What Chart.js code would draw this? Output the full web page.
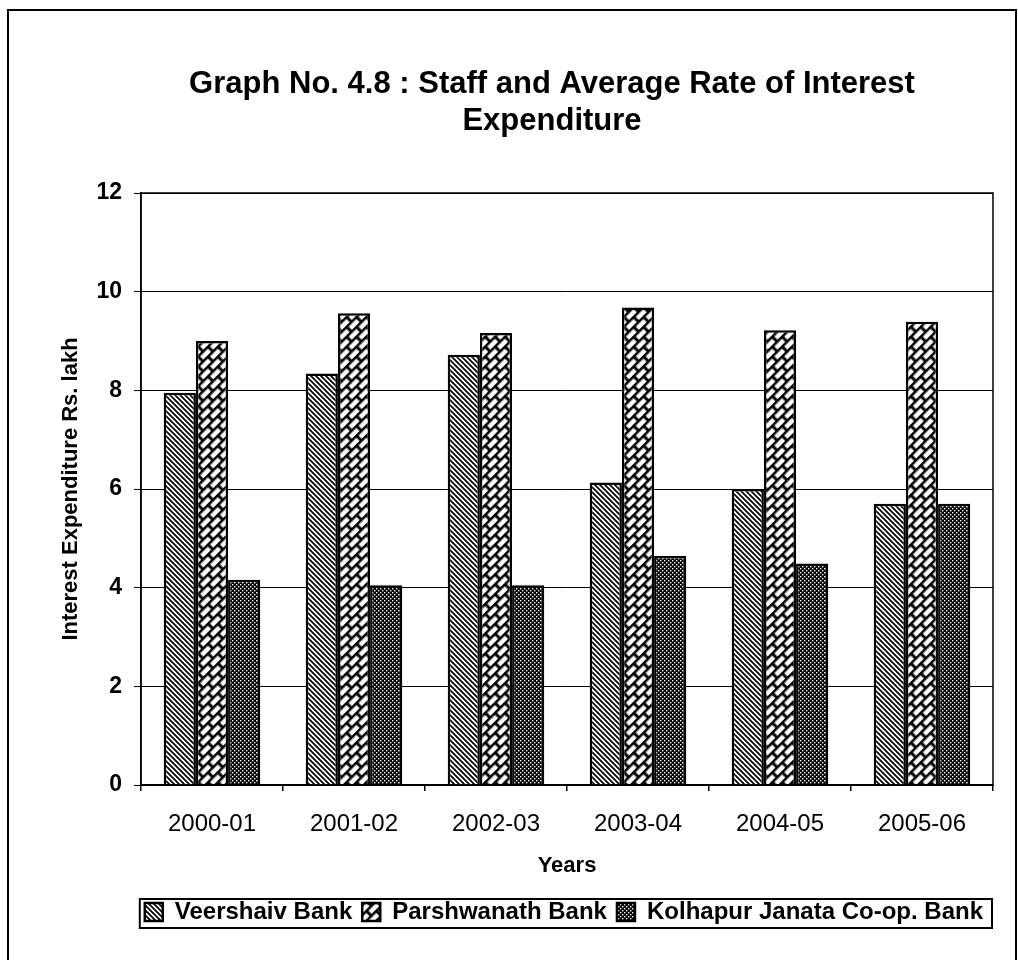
<!DOCTYPE html>
<html>
<head>
<meta charset="utf-8">
<script src="https://cdn.jsdelivr.net/npm/chart.js@4.4.1/dist/chart.umd.min.js"></script>
<style>
  html, body { margin: 0; padding: 0; background: #fff; }
  #wrap { width: 1018px; height: 960px; position: relative; }
</style>
</head>
<body>
<div id="wrap"><canvas id="chart"></canvas></div>
<script>
// data
const years = ['2000-01', '2001-02', '2002-03', '2003-04', '2004-05', '2005-06'];
const veershaiv = [7.95, 8.34, 8.72, 6.13, 6.0, 5.7];
const parshwanath = [9.0, 9.56, 9.16, 9.68, 9.22, 9.39];
const kolhapur = [4.16, 4.05, 4.05, 4.64, 4.49, 5.7];
const seriesNames = ['Veershaiv Bank', 'Parshwanath Bank', 'Kolhapur Janata Co-op. Bank'];
const titleLines = ['Graph No. 4.8 : Staff and Average Rate of Interest', 'Expenditure'];
const yAxisTitle = 'Interest Expenditure Rs. lakh';
const xAxisTitle = 'Years';

const FONT = '"Liberation Sans", Arial, sans-serif';

function makeCtx(w, h) {
    const c = document.createElement('canvas');
    c.width = w;
    c.height = h;
    return c.getContext('2d');
}

// diagonal lines  \\\
function hatchPattern() {
    const g = makeCtx(5, 5);
    g.fillStyle = '#fff';
    g.fillRect(0, 0, 5, 5);
    g.strokeStyle = '#000';
    g.lineWidth = 1.7;
    g.beginPath();
    g.moveTo(-1, -1); g.lineTo(6, 6);
    g.moveTo(-1, 4); g.lineTo(1, 6);
    g.moveTo(4, -1); g.lineTo(6, 1);
    g.stroke();
    return g.createPattern(g.canvas, 'repeat');
}

// diagonal brick
function brickPattern() {
    const g = makeCtx(14, 14);
    g.fillStyle = '#000';
    g.fillRect(0, 0, 14, 14);
    g.fillStyle = '#fff';
    g.fillRect(1.5, 1.5, 11, 4.5);
    g.fillRect(8.5, 8.5, 5.5, 4.5);
    g.fillRect(0, 8.5, 5.5, 4.5);
    const p = g.createPattern(g.canvas, 'repeat');
    p.setTransform(new DOMMatrix().rotate(-45));
    return p;
}

// dark dotted
function dotPattern() {
    const g = makeCtx(4, 4);
    g.fillStyle = '#000';
    g.fillRect(0, 0, 4, 4);
    g.fillStyle = '#fff';
    g.fillRect(0, 0, 1.4, 1.4);
    g.fillRect(2, 2, 1.4, 1.4);
    return g.createPattern(g.canvas, 'repeat');
}

const fills = [hatchPattern(), brickPattern(), dotPattern()];

const framePlugin = {
    id: 'frame',
    beforeDraw(chart) {
        const ctx = chart.ctx;
        ctx.save();
        ctx.fillStyle = '#fff';
        ctx.fillRect(0, 0, chart.width, chart.height);
        ctx.restore();
    },
    afterDraw(chart) {
        const ctx = chart.ctx;
        const a = chart.chartArea;
        ctx.save();
        ctx.strokeStyle = '#000';

        // outer frame of the page
        ctx.lineWidth = 2;
        ctx.beginPath();
        ctx.moveTo(8, chart.height);
        ctx.lineTo(8, 10);
        ctx.lineTo(1016, 10);
        ctx.lineTo(1016, chart.height);
        ctx.stroke();

        // plot box
        ctx.lineWidth = 1.5;
        ctx.strokeRect(a.left, a.top, a.right - a.left, a.bottom - a.top);

        // title
        ctx.fillStyle = '#000';
        ctx.font = 'bold 31px ' + FONT;
        ctx.textAlign = 'center';
        ctx.textBaseline = 'alphabetic';
        const cx = (a.left + a.right) / 2 - 15;
        titleLines.forEach((t, i) => ctx.fillText(t, cx, 93 + i * 37));

        // legend border
        const boxes = chart.legend.legendHitBoxes;
        if (boxes && boxes.length) {
            const first = boxes[0];
            const last = boxes[boxes.length - 1];
            const top = Math.min(...boxes.map(b => b.top));
            const bottom = Math.max(...boxes.map(b => b.top + b.height));
            ctx.lineWidth = 2;
            ctx.strokeRect(first.left - 5, top - 1, last.left + last.width - first.left + 14, bottom - top + 5);
        }
        ctx.restore();
    }
};

const chart = new Chart(document.getElementById('chart').getContext('2d'), {
    type: 'bar',
    data: {
        labels: years,
        datasets: [veershaiv, parshwanath, kolhapur].map((vals, i) => ({
            label: seriesNames[i],
            data: vals,
            backgroundColor: fills[i],
            borderColor: '#000',
            borderWidth: 2.5,
            borderSkipped: 'bottom',
            barPercentage: 1,
            categoryPercentage: 0.68
        }))
    },
    options: {
        responsive: true,
        maintainAspectRatio: false,
        animation: false,
        layout: { padding: { left: 0, right: 25, top: 193, bottom: 26 } },
        plugins: {
            title: { display: false },
            tooltip: { enabled: false },
            legend: {
                position: 'bottom',
                align: 'end',
                labels: {
                    boxWidth: 18,
                    boxHeight: 18,
                    padding: 10,
                    color: '#000',
                    font: { family: FONT, size: 24, weight: 'bold' }
                }
            }
        },
        scales: {
            x: {
                afterFit(scale) { scale.height = 105; },
                grid: {
                    offset: true,
                    drawOnChartArea: false,
                    drawTicks: true,
                    tickLength: 6,
                    color: '#000',
                    lineWidth: 1.5
                },
                border: { color: '#000', width: 1.5 },
                ticks: {
                    color: '#000',
                    padding: 19,
                    maxRotation: 0,
                    font: { family: FONT, size: 24 }
                },
                title: {
                    display: true,
                    text: xAxisTitle,
                    color: '#000',
                    padding: { top: 0, bottom: 11 },
                    font: { family: FONT, size: 22, weight: 'bold' }
                }
            },
            y: {
                min: 0,
                max: 12,
                afterFit(scale) { scale.width = 141; },
                grid: {
                    color: '#000',
                    lineWidth: 1,
                    tickLength: 7
                },
                border: { color: '#000', width: 1.5 },
                ticks: {
                    stepSize: 2,
                    color: '#000',
                    padding: 12,
                    font: { family: FONT, size: 23, weight: 'bold' }
                },
                title: {
                    display: true,
                    text: yAxisTitle,
                    color: '#000',
                    padding: { top: 58, bottom: 0 },
                    font: { family: FONT, size: 22, weight: 'bold' }
                }
            }
        }
    },
    plugins: [framePlugin]
});
</script>
</body>
</html>
